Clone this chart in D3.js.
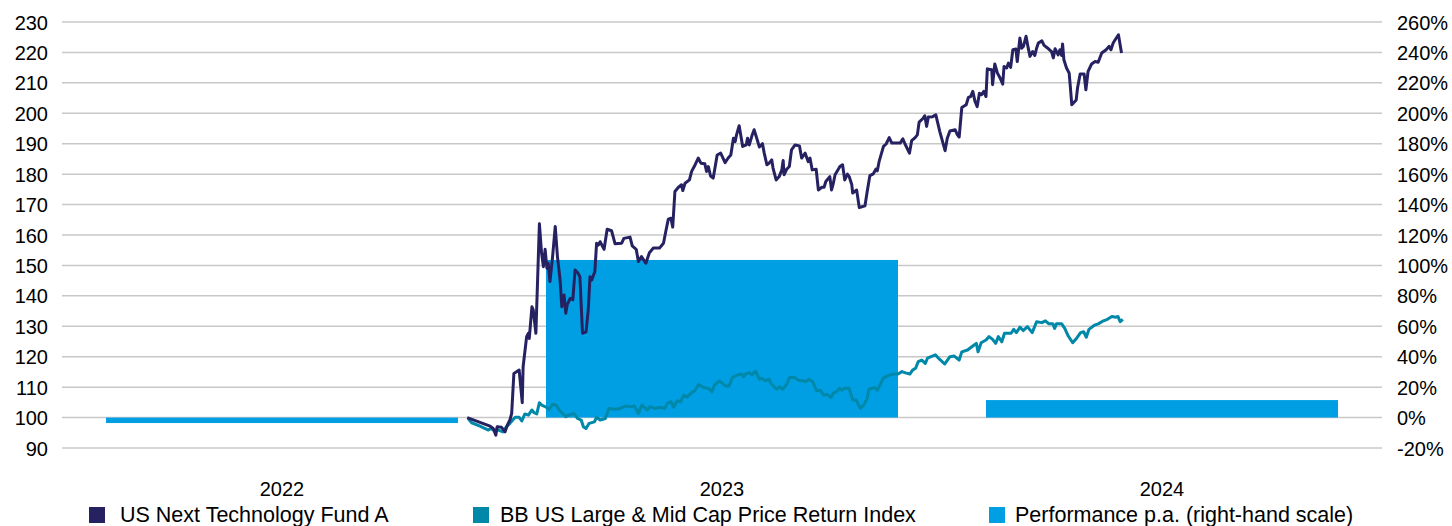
<!DOCTYPE html>
<html><head><meta charset="utf-8">
<script src="https://cdn.jsdelivr.net/npm/d3@7"></script>
<style>
body{margin:0;background:#fff}
svg text{font-family:"Liberation Sans",Arial,sans-serif;fill:#000}
</style>
</head><body>
<svg id="chart" width="1452" height="526"></svg>
<script>
// ---------- data ----------
const categories = ["2022", "2023", "2024"];
const performancePA = [-3.6, 103.6, 11.5]; // % (right-hand scale)
const leftTicks = [90, 100, 110, 120, 130, 140, 150, 160, 170, 180, 190, 200, 210, 220, 230];
const rightTicks = [-20, 0, 20, 40, 60, 80, 100, 120, 140, 160, 180, 200, 220, 240, 260];
const seriesNames = ["US Next Technology Fund A", "BB US Large & Mid Cap Price Return Index", "Performance p.a. (right-hand scale)"];

// time as decimal year
const fundTime = [2022.921,2022.973,2022.980,2022.986,2022.989,2022.999,2023.007,2023.012,2023.018,2023.022,2023.027,2023.039,2023.046,2023.048,2023.056,2023.060,2023.062,2023.068,2023.071,2023.077,2023.085,2023.090,2023.094,2023.098,2023.102,2023.105,2023.109,2023.115,2023.121,2023.126,2023.132,2023.136,2023.141,2023.145,2023.148,2023.155,2023.161,2023.166,2023.173,2023.177,2023.183,2023.191,2023.196,2023.200,2023.204,2023.211,2023.215,2023.219,2023.223,2023.232,2023.239,2023.249,2023.257,2023.272,2023.277,2023.291,2023.296,2023.305,2023.310,2023.317,2023.327,2023.335,2023.344,2023.358,2023.367,2023.373,2023.378,2023.384,2023.388,2023.393,2023.401,2023.408,2023.411,2023.416,2023.426,2023.431,2023.439,2023.446,2023.452,2023.461,2023.465,2023.469,2023.474,2023.480,2023.484,2023.489,2023.497,2023.507,2023.514,2023.520,2023.526,2023.530,2023.533,2023.539,2023.547,2023.555,2023.558,2023.562,2023.568,2023.573,2023.579,2023.585,2023.592,2023.596,2023.602,2023.607,2023.613,2023.616,2023.623,2023.630,2023.636,2023.639,2023.641,2023.647,2023.653,2023.658,2023.666,2023.676,2023.681,2023.689,2023.696,2023.700,2023.705,2023.714,2023.719,2023.727,2023.732,2023.736,2023.745,2023.749,2023.753,2023.757,2023.768,2023.774,2023.779,2023.785,2023.789,2023.795,2023.797,2023.806,2023.812,2023.825,2023.830,2023.836,2023.844,2023.850,2023.853,2023.857,2023.867,2023.873,2023.880,2023.886,2023.905,2023.911,2023.916,2023.926,2023.931,2023.939,2023.944,2023.948,2023.956,2023.961,2023.965,2023.969,2023.979,2023.986,2023.995,2024.007,2024.012,2024.018,2024.030,2024.035,2024.039,2024.045,2024.055,2024.060,2024.065,2024.070,2024.075,2024.080,2024.085,2024.090,2024.095,2024.100,2024.103,2024.113,2024.115,2024.120,2024.126,2024.132,2024.138,2024.141,2024.147,2024.151,2024.156,2024.161,2024.168,2024.171,2024.177,2024.181,2024.185,2024.191,2024.196,2024.200,2024.206,2024.211,2024.215,2024.219,2024.227,2024.232,2024.242,2024.249,2024.253,2024.257,2024.264,2024.268,2024.272,2024.274,2024.277,2024.283,2024.289,2024.291,2024.295,2024.305,2024.308,2024.314,2024.323,2024.327,2024.332,2024.340,2024.348,2024.355,2024.363,2024.373,2024.380,2024.384,2024.389,2024.395,2024.401,2024.408];
const fundValue = [100.0,97.2,96.4,94.2,97.0,96.8,95.3,97.5,99.2,101.4,114.5,115.6,104.9,116.7,126.6,127.7,126.0,136.4,135.4,127.7,163.7,154.0,149.6,155.3,149.1,150.7,144.7,152.9,162.8,152.9,145.2,136.4,140.3,134.3,137.0,139.2,138.7,148.5,147.4,146.3,127.7,128.2,135.4,146.3,145.2,148.0,157.3,156.7,157.8,155.3,161.9,161.4,157.1,157.3,158.9,159.3,156.4,155.3,151.3,152.9,150.7,154.2,155.7,155.7,157.3,161.7,165.2,165.5,162.6,174.3,175.7,176.5,174.6,177.0,178.1,180.9,183.1,185.3,183.6,183.4,180.9,182.5,179.4,178.7,182.0,186.3,186.9,183.8,185.3,186.3,191.8,190.7,192.9,195.9,189.1,189.6,191.8,189.6,192.6,194.6,191.8,188.9,190.0,186.9,183.1,183.6,184.7,182.0,178.1,179.2,181.4,184.5,179.8,181.6,182.5,188.0,189.6,189.3,185.3,186.9,184.1,185.3,181.4,181.6,174.8,175.7,175.7,177.6,179.2,174.8,177.0,179.8,182.5,183.1,178.1,180.0,179.2,176.5,173.8,174.8,169.0,169.6,174.3,179.5,180.1,181.7,181.1,184.1,189.1,189.9,192.0,190.2,190.2,191.6,189.9,186.9,191.0,192.0,192.9,197.1,198.2,199.2,195.7,198.8,198.9,199.5,194.0,187.7,191.8,194.2,194.6,192.9,192.2,201.9,202.8,205.2,205.5,207.2,203.9,202.2,206.6,206.1,207.2,205.5,214.6,214.3,209.4,216.2,213.2,211.6,209.6,215.4,214.9,216.5,215.1,220.9,221.1,217.0,224.7,221.4,222.0,225.3,221.4,218.7,220.3,219.0,221.4,223.1,223.8,222.3,221.2,220.3,218.2,221.2,219.2,220.9,219.0,222.8,217.6,214.9,213.2,209.9,202.8,204.4,208.3,212.9,212.9,207.7,213.8,216.2,217.0,216.8,219.8,220.9,222.0,220.9,223.1,224.5,225.8,219.8];

const indexTime = [2022.923,2022.931,2022.950,2022.969,2022.974,2022.980,2022.992,2023.002,2023.009,2023.018,2023.030,2023.039,2023.045,2023.052,2023.060,2023.068,2023.073,2023.079,2023.085,2023.090,2023.098,2023.107,2023.115,2023.123,2023.130,2023.136,2023.145,2023.152,2023.163,2023.172,2023.180,2023.185,2023.191,2023.198,2023.210,2023.215,2023.223,2023.235,2023.243,2023.256,2023.268,2023.281,2023.293,2023.301,2023.310,2023.318,2023.330,2023.337,2023.348,2023.359,2023.370,2023.376,2023.384,2023.390,2023.398,2023.406,2023.413,2023.421,2023.431,2023.438,2023.447,2023.458,2023.469,2023.477,2023.483,2023.494,2023.500,2023.508,2023.516,2023.524,2023.535,2023.545,2023.549,2023.555,2023.563,2023.568,2023.576,2023.585,2023.590,2023.599,2023.607,2023.611,2023.624,2023.632,2023.638,2023.646,2023.654,2023.665,2023.673,2023.684,2023.690,2023.698,2023.706,2023.715,2023.723,2023.731,2023.739,2023.748,2023.753,2023.760,2023.767,2023.772,2023.778,2023.785,2023.789,2023.797,2023.805,2023.814,2023.822,2023.830,2023.834,2023.847,2023.853,2023.859,2023.866,2023.876,2023.888,2023.900,2023.909,2023.917,2023.927,2023.933,2023.940,2023.946,2023.954,2023.962,2023.967,2023.975,2023.985,2023.995,2024.006,2024.018,2024.028,2024.039,2024.045,2024.058,2024.070,2024.078,2024.082,2024.089,2024.100,2024.107,2024.115,2024.122,2024.128,2024.136,2024.142,2024.157,2024.163,2024.169,2024.177,2024.185,2024.194,2024.205,2024.215,2024.227,2024.235,2024.243,2024.252,2024.256,2024.260,2024.272,2024.279,2024.287,2024.297,2024.306,2024.315,2024.322,2024.328,2024.334,2024.347,2024.355,2024.367,2024.376,2024.386,2024.395,2024.400,2024.405,2024.411];
const indexValue = [99.7,98.3,97.2,95.9,96.4,95.9,95.9,95.3,96.8,98.1,100.1,100.1,98.9,101.2,100.8,102.5,101.6,101.2,104.9,104.1,103.6,102.7,104.4,104.1,102.5,101.6,100.3,100.8,101.4,99.7,99.2,97.0,96.4,98.1,98.6,100.1,99.2,99.7,103.0,102.7,103.0,103.8,103.6,103.8,101.4,104.1,102.5,103.6,103.0,103.4,103.0,104.7,105.2,103.4,105.5,105.2,107.4,106.8,108.2,108.8,110.9,109.9,109.6,108.5,110.7,112.0,111.4,110.4,110.4,113.2,114.0,114.3,113.4,114.5,114.7,114.0,115.3,112.6,112.9,112.1,112.6,111.3,109.3,110.1,109.3,110.7,113.2,113.2,112.3,112.1,111.8,112.6,111.8,108.8,109.0,107.4,107.6,106.6,108.0,108.5,109.6,109.0,109.6,109.6,109.6,105.8,105.8,103.0,104.1,106.3,109.3,109.9,109.0,110.7,112.9,113.7,114.3,114.3,115.1,114.7,114.3,115.6,116.2,118.4,118.9,117.8,119.5,120.0,120.6,119.1,117.6,120.0,120.2,118.9,121.6,122.2,123.5,124.4,121.6,124.6,125.5,126.6,125.7,124.4,126.6,124.9,127.7,127.7,129.0,127.9,129.7,128.6,129.9,127.9,131.5,131.2,131.8,130.8,130.8,129.3,130.8,130.8,129.3,126.8,124.6,126.1,127.9,128.2,126.4,129.0,130.4,130.8,131.8,132.3,133.2,133.0,133.2,131.5,132.3];

// ---------- layout ----------
const colors = { fund: "#262262", index: "#0088A9", bar: "#009FE3", grid: "#C8C8C8" };
const plot = { left: 62, right: 1382, top: 22, bottom: 448 };

const svg = d3.select("#chart");

const xBand = d3.scaleBand().domain(categories).range([plot.left, plot.right]).paddingInner(0.2).paddingOuter(0.1);
const xTime = d3.scaleLinear().domain([2022, 2025]).range([plot.left, plot.right]);
const yLeft = d3.scaleLinear().domain([90, 230]).range([plot.bottom, plot.top]);
const yRight = d3.scaleLinear().domain([-20, 260]).range([plot.bottom, plot.top]);

// gridlines
svg.append("g").selectAll("line").data(leftTicks).join("line")
  .attr("x1", plot.left).attr("x2", plot.right)
  .attr("y1", d => yLeft(d)).attr("y2", d => yLeft(d))
  .attr("stroke", colors.grid).attr("stroke-width", 1.5);

// left axis
const axL = svg.append("g").attr("transform", `translate(${plot.left},0)`)
  .call(d3.axisLeft(yLeft).tickValues(leftTicks).tickSize(0).tickPadding(14));
axL.select(".domain").remove();
axL.selectAll("text").style("font-size", "20px").attr("dy", "0.35em");

// right axis
const axR = svg.append("g").attr("transform", `translate(${plot.right},0)`)
  .call(d3.axisRight(yRight).tickValues(rightTicks).tickSize(0).tickPadding(15).tickFormat(d => d + "%"));
axR.select(".domain").remove();
axR.selectAll("text").style("font-size", "20px").attr("dy", "0.35em");

// bars
svg.append("g").selectAll("rect").data(categories).join("rect")
  .attr("x", d => xBand(d)).attr("width", xBand.bandwidth())
  .attr("y", (d, i) => yRight(Math.max(0, performancePA[i])))
  .attr("height", (d, i) => Math.abs(yRight(performancePA[i]) - yRight(0)))
  .attr("fill", colors.bar);

// lines
const line = d3.line().x(d => xTime(d[0])).y(d => yLeft(d[1]));
const indexData = indexTime.map((t, i) => [t, indexValue[i]]);
const fundData = fundTime.map((t, i) => [t, fundValue[i]]);
svg.append("path").datum(indexData).attr("d", line).attr("fill", "none")
  .attr("stroke", colors.index).attr("stroke-width", 3).attr("stroke-linejoin", "round");
svg.append("path").datum(fundData).attr("d", line).attr("fill", "none")
  .attr("stroke", colors.fund).attr("stroke-width", 3).attr("stroke-linejoin", "round");

// category labels
svg.append("g").selectAll("text").data(categories).join("text")
  .attr("x", d => xBand(d) + xBand.bandwidth() / 2).attr("y", 496)
  .attr("text-anchor", "middle").style("font-size", "20px").text(d => d);

// legend
const legendSquareX = [89, 473, 989];
const legendTextX = [120, 500, 1015];
const legendColors = [colors.fund, colors.index, colors.bar];
const lg = svg.append("g").selectAll("g").data(seriesNames).join("g");
lg.append("rect").attr("x", (d, i) => legendSquareX[i]).attr("y", 507).attr("width", 16).attr("height", 16)
  .attr("fill", (d, i) => legendColors[i]);
lg.append("text").attr("x", (d, i) => legendTextX[i]).attr("y", 522).style("font-size", "21.5px").text(d => d);
</script>
</body></html>
